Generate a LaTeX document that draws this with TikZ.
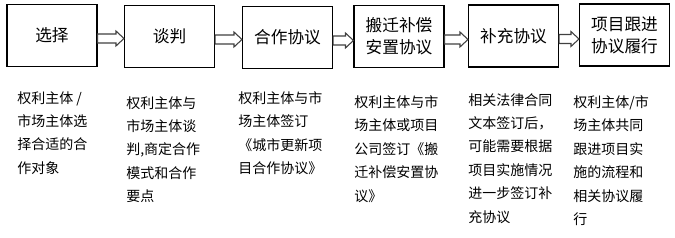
\documentclass[tikz,border=0pt]{standalone}
\usepackage{fontspec}
\setmainfont{Noto Sans CJK SC}
\usetikzlibrary{positioning, calc}

\tikzset{
  stage/.style={draw, line width=0.8pt, minimum width=67.5pt, minimum height=46.5pt,
    inner sep=0pt, align=center, font=\fontsize{12.5}{16.5}\selectfont},
  note/.style={anchor=north west, inner sep=0pt, align=left,
    font=\fontsize{10.5}{17.6}\selectfont},
  hollow/.style={draw=black!75, fill=white, line width=0.8pt, line join=miter}
}

\begin{document}
\begin{tikzpicture}[x=0.75pt, y=-0.75pt]
    \useasboundingbox (0,0) rectangle (675,238);

    % stages of the process
    \node[stage] (b1) at (52,35.5)  {选择};
    \node[stage] (b2) at (169.5,36.5) {谈判};
    \node[stage] (b3) at (287.5,37.5) {合作协议};
    \node[stage] (b4) at (399,36.5) {搬迁补偿\\安置协议};
    \node[stage] (b5) at (513.5,36) {补充协议};
    \node[stage] (b6) at (624.5,35) {项目跟进\\协议履行};

    % hollow block arrows between stages
    \foreach \a/\b in {b1/b2, b2/b3, b3/b4, b4/b5, b5/b6} {
        \coordinate (s) at ($(\a.east)+(0,3)$);
        \coordinate (t) at (\b.west|-s);
        \draw[hollow] ($(s)+(0,-4.5)$) -- ($(t)+(-8,-4.5)$) -- ($(t)+(-8,-7.5)$) -- (t)
            -- ($(t)+(-8,7.5)$) -- ($(t)+(-8,4.5)$) -- ($(s)+(0,4.5)$) -- cycle;
    }

    % notes under each stage
    \node[note] (n1) at (17,91)  {权利主体 /\\市场主体选\\择合适的合\\作对象};
    \node[note] (n2) at (126,96) {权利主体与\\市场主体谈\\判,商定合作\\模式和合作\\要点};
    \node[note] (n3) at (238,91) {权利主体与市\\场主体签订\\《城市更新项\\目合作协议》};
    \node[note] (n4) at (354,95) {权利主体与市\\场主体或项目\\公司签订《搬\\迁补偿安置协\\议》};
    \node[note] (n5) at (468,93) {相关法律合同\\文本签订后，\\可能需要根据\\项目实施情况\\进一步签订补\\充协议};
    \node[note] (n6) at (573,95) {权利主体/市\\场主体共同\\跟进项目实\\施的流程和\\相关协议履\\行};
\end{tikzpicture}
\end{document}
